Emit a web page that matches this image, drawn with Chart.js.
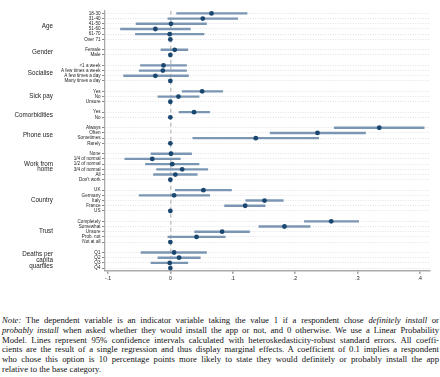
<!DOCTYPE html>
<html>
<head>
<meta charset="utf-8">
<script src="https://cdn.jsdelivr.net/npm/chart.js@4"></script>
<style>
  body { margin: 0; background: #fff; }
  #wrap { position: absolute; left: 0; top: 0; width: 440px; height: 290px; }
  #note {
    position: absolute; left: 2px; top: 316px; width: 437px;
    font-family: "Liberation Serif", "Times New Roman", serif;
    font-size: 8.7px; line-height: 9.8px; color: #111;
  }
  #note div { white-space: nowrap; text-align: justify; text-align-last: justify; }
  #note div.last { text-align-last: left; }
</style>
</head>
<body>
<div id="wrap"><canvas id="coefChart"></canvas></div>
<div id="note">
  <div><i>Note:</i> The dependent variable is an indicator variable taking the value 1 if a respondent chose <i>definitely install</i> or</div>
  <div><i>probably install</i> when asked whether they would install the app or not, and 0 otherwise. We use a Linear Probability</div>
  <div>Model. Lines represent 95% confidence intervals calculated with heteroskedasticity-robust standard errors. All coeffi-</div>
  <div>cients are the result of a single regression and thus display marginal effects. A coefficient of 0.1 implies a respondent</div>
  <div>who chose this option is 10 percentage points more likely to state they would definitely or probably install the app</div>
  <div class="last">relative to the base category.</div>
</div>
<script>
// groups and their categories (base category last, no interval)
const groupNames = ["Age", "Gender", "Socialise", "Sick pay", "Comorbidities", "Phone use",
                    "Work from\nhome", "Country", "Trust", "Deaths per\ncapita\nquartiles"];
const groupSizes = [6, 2, 4, 3, 2, 4, 6, 5, 5, 4];
const categories = [
  "18-30", "31-40", "41-50", "51-60", "61-70", "Over 71",
  "Female", "Male",
  "<1 a week", "A few times a week", "A few times a day", "Many times a day",
  "Yes", "No", "Unsure",
  "Yes", "No",
  "Always", "Often", "Sometimes", "Rarely",
  "None", "1/4 of normal", "1/2 of normal", "3/4 of normal", "All", "Don't work",
  "UK", "Germany", "Italy", "France", "US",
  "Completely", "Somewhat", "Unsure", "Prob. not", "Not at all",
  "Q1", "Q2", "Q3", "Q4"
];
const estimates = [
  0.066, 0.052, 0.001, -0.024, -0.001, 0,
  0.007, 0,
  -0.011, -0.012, -0.024, 0,
  0.051, 0.013, 0,
  0.038, 0,
  0.335, 0.236, 0.137, 0,
  0.001, -0.029, 0.003, 0.019, 0.008, 0,
  0.053, 0.006, 0.151, 0.120, 0,
  0.258, 0.183, 0.083, 0.042, 0,
  0.006, 0.014, -0.001, 0
];
const ciLow = [
  0.010, -0.004, -0.055, -0.080, -0.056, null,
  -0.015, null,
  -0.048, -0.050, -0.075, null,
  0.019, -0.020, null,
  0.014, null,
  0.263, 0.160, 0.036, null,
  -0.031, -0.073, -0.040, -0.022, -0.027, null,
  0.008, -0.050, 0.121, 0.087, null,
  0.215, 0.142, 0.039, -0.004, null,
  -0.047, -0.020, -0.031, null
];
const ciHigh = [
  0.123, 0.108, 0.058, 0.032, 0.054, null,
  0.028, null,
  0.026, 0.026, 0.029, null,
  0.084, 0.046, null,
  0.063, null,
  0.407, 0.313, 0.238, null,
  0.034, 0.016, 0.046, 0.060, 0.043, null,
  0.098, 0.063, 0.181, 0.152, null,
  0.302, 0.224, 0.127, 0.088, null,
  0.058, 0.048, 0.028, null
];
const xTicks = [-0.1, 0, 0.1, 0.2, 0.3, 0.4];
const xTickLabels = ["-.1", "0", ".1", ".2", ".3", ".4"];

const navy = "#1a476f";
const ciColor = "#7b96b3";
const sans = "'Liberation Sans', Arial, sans-serif";

// rows: one per category plus a blank row between groups
const rowKeys = [], rowText = [], groupRows = [];
const points = [], intervals = [];
let k = 0;
groupSizes.forEach((n, g) => {
  if (g > 0) { rowKeys.push("gap" + g); rowText.push(""); }
  const rows = [];
  for (let i = 0; i < n; i++, k++) {
    const key = g + "|" + categories[k];
    rowKeys.push(key);
    rowText.push(categories[k]);
    rows.push(key);
    points.push({ x: estimates[k], y: key });
    if (ciLow[k] !== null) intervals.push({ x: [ciLow[k], ciHigh[k]], y: key });
  }
  groupRows.push(rows);
});
const isGap = (i) => rowKeys[i] && rowKeys[i].startsWith("gap");

const groupLabels = {
  id: "groupLabels",
  afterDraw(chart) {
    const y = chart.scales.y, ctx = chart.ctx;
    ctx.save();
    ctx.font = "6.3px " + sans;
    ctx.fillStyle = "#222";
    ctx.textAlign = "right";
    ctx.textBaseline = "middle";
    groupNames.forEach((name, g) => {
      const rows = groupRows[g];
      const mid = (y.getPixelForValue(rowKeys.indexOf(rows[0])) +
                   y.getPixelForValue(rowKeys.indexOf(rows[rows.length - 1]))) / 2;
      const lines = name.split("\n");
      const lh = 5.8;
      lines.forEach((ln, i) => {
        ctx.fillText(ln, 53, mid + (i - (lines.length - 1) / 2) * lh);
      });
    });
    ctx.restore();
  }
};

new Chart(document.getElementById("coefChart"), {
  type: "bar",
  data: {
    datasets: [
      {
        type: "line",
        data: points,
        showLine: false,
        pointRadius: 2.4,
        pointBorderWidth: 0,
        pointBackgroundColor: navy,
        pointBorderColor: navy,
        order: 0
      },
      {
        type: "bar",
        data: intervals,
        backgroundColor: ciColor,
        barThickness: 1.7,
        borderWidth: 0,
        order: 1
      }
    ]
  },
  options: {
    indexAxis: "y",
    responsive: true,
    maintainAspectRatio: false,
    animation: false,
    layout: { padding: { top: 10.8, right: 10.5, left: 0, bottom: 0 } },
    plugins: { legend: { display: false }, tooltip: { enabled: false } },
    scales: {
      y: {
        type: "category",
        labels: rowKeys,
        offset: true,
        afterFit(s) { s.width = 105; },
        grid: {
          offset: false,
          color: (c) => isGap(c.index) ? "rgba(0,0,0,0)" : "#e2e2e2",
          lineWidth: 1,
          tickColor: (c) => isGap(c.index) ? "rgba(0,0,0,0)" : "#888",
          tickLength: 3,
          tickBorderDash: []
        },
        border: { display: true, color: "#aaa", width: 1.3, dash: [1, 1.5] },
        ticks: {
          autoSkip: false,
          padding: 1.5,
          color: "#222",
          font: { family: sans, size: 4.6 },
          callback: (v, i) => rowText[i]
        }
      },
      x: {
        type: "linear",
        min: -0.1048,
        max: 0.4156,
        afterBuildTicks(s) { s.ticks = xTicks.map(v => ({ value: v })); },
        afterFit(s) { s.height = 19.3; },
        grid: {
          color: (c) => (c.tick && c.tick.value === 0) ? "#c4c4c4" : "rgba(0,0,0,0)",
          lineWidth: 1.5,
          tickColor: "#999",
          tickLength: 3,
          tickBorderDash: []
        },
        border: { display: true, color: "#aaa", width: 1.5, dash: [4, 3] },
        ticks: {
          autoSkip: false,
          maxRotation: 0,
          padding: 1.5,
          color: "#222",
          font: { family: sans, size: 5.2 },
          callback: (v) => xTickLabels[xTicks.indexOf(v)]
        }
      }
    }
  },
  plugins: [groupLabels]
});
</script>
</body>
</html>
